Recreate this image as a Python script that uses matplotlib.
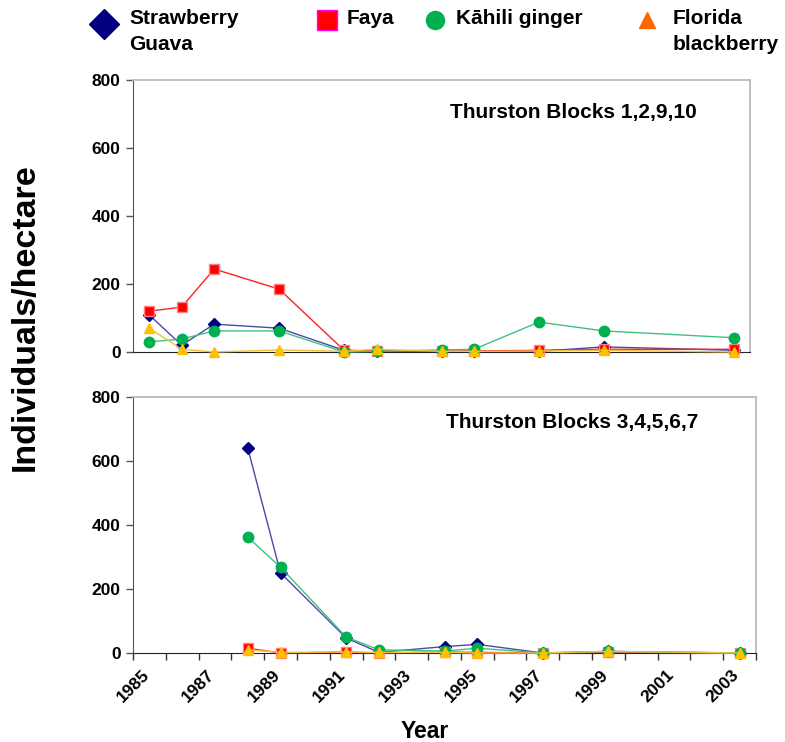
import matplotlib
matplotlib.use('Agg')
from matplotlib import pyplot as plt
from matplotlib.lines import Line2D

plt.rcParams['font.family'] = ['Liberation Sans', 'DejaVu Sans']
plt.rcParams['font.weight'] = 'bold'

# survey years (points sit mid-year)
years_top = [1985.5, 1986.5, 1987.5, 1989.5, 1991.5, 1992.5, 1994.5, 1995.5, 1997.5, 1999.5, 2003.5]
years_bot = [1988.5, 1989.5, 1991.5, 1992.5, 1994.5, 1995.5, 1997.5, 1999.5, 2003.5]

# Thurston Blocks 1,2,9,10
guava_top = [109, 20, 82, 70, 5, 2, 2, 2, 2, 15, 5]
faya_top = [120, 132, 244, 185, 5, 3, 3, 3, 5, 8, 8]
kahili_top = [30, 38, 62, 62, 0, 2, 6, 8, 88, 62, 42]
berry_top = [70, 8, 0, 6, 2, 8, 2, 2, 3, 5, 0]

# Thurston Blocks 3,4,5,6,7
guava_bot = [640, 250, 47, 2, 20, 27, 0, 5, 0]
faya_bot = [15, 0, 3, 0, 3, 2, 0, 3, 0]
kahili_bot = [362, 268, 50, 10, 6, 15, 0, 5, 0]
berry_bot = [10, 2, 3, 2, 2, 0, 0, 5, 0]

labels = ['Strawberry\nGuava', 'Faya', 'K\u0101hili ginger', 'Florida\nblackberry']
panel_titles = ['Thurston Blocks 1,2,9,10', 'Thurston Blocks 3,4,5,6,7']
xticks = list(range(1985, 2004, 2))

# line color, marker, marker face, marker edge, marker size
styles = [
    ('#4a4aa8', 'D', '#000080', '#000080', 6),
    ('#ff2020', 's', '#ff0000', '#ff8080', 7.5),
    ('#40c080', 'o', '#00b050', '#00b050', 7.5),
    ('#f0c040', '^', '#ffc000', '#ffc000', 7.5),
]

fig = plt.figure(figsize=(7.85, 7.42), dpi=100)
ax1 = fig.add_axes([133 / 785, 1 - 352 / 742, 617 / 785, 272 / 742])
ax2 = fig.add_axes([133 / 785, 1 - 653 / 742, 623 / 785, 256 / 742])

panels = [
    (ax1, years_top, [guava_top, faya_top, kahili_top, berry_top], (0.713, 0.882)),
    (ax2, years_bot, [guava_bot, faya_bot, kahili_bot, berry_bot], (0.705, 0.902)),
]

for i, (ax, yrs, series, tpos) in enumerate(panels):
    for vals, st in zip(series, styles):
        ax.plot(yrs, vals, color=st[0], lw=1.0, marker=st[1], markerfacecolor=st[2],
                markeredgecolor=st[3], markersize=st[4], clip_on=False, zorder=3)
    ax.set_xlim(1985, 2004)
    ax.set_ylim(0, 800)
    ax.set_yticks([0, 200, 400, 600, 800])
    ax.tick_params(axis='y', direction='out', length=5, width=1, color='#555555',
                   labelsize=12.5, pad=4)
    for s in ['top', 'right']:
        ax.spines[s].set_color('#bbbbbb')
        ax.spines[s].set_linewidth(1.3)
    ax.spines['left'].set_color('#555555')
    ax.spines['bottom'].set_color('#222222')
    ax.text(tpos[0], tpos[1], panel_titles[i], transform=ax.transAxes, ha='center', va='center',
            fontsize=15, fontweight='bold')
    for lab in ax.get_yticklabels():
        lab.set_fontweight('bold')

ax1.set_xticks([])
ax2.set_xticks(xticks)
ax2.set_xticks(range(1985, 2005), minor=True)
ax2.tick_params(axis='x', which='both', direction='out', length=5, width=1, color='#333333', pad=5)
ax2.set_xticklabels([str(y) for y in xticks], rotation=45, ha='center', va='top',
                    fontsize=12.5, fontweight='bold')

fig.text(25 / 785, 1 - 317 / 742, 'Individuals/hectare', rotation=90, ha='center', va='center',
         fontsize=24.5, fontweight='bold')
fig.text(425 / 785, 1 - 732 / 742, 'Year', ha='center', va='center', fontsize=16.5, fontweight='bold')

# legend along the top
leg_marks = [
    (104, 24, 'D', '#000080', '#000080', 15.5, 129),
    (327, 20, 's', '#ff0000', '#ff00ff', 14, 347),
    (435, 20, 'o', '#00b050', '#00b050', 13, 456),
    (647, 20, '^', '#ff6600', '#ff6600', 12, 673),
]
for (mx, my, mk, fc, ec, ms, tx), lab in zip(leg_marks, labels):
    fig.add_artist(Line2D([mx / 785], [1 - my / 742], transform=fig.transFigure, marker=mk,
                          markerfacecolor=fc, markeredgecolor=ec, markersize=ms, linestyle='none'))
    fig.text(tx / 785, 1 - 9 / 742, lab, ha='left', va='top', fontsize=15, fontweight='bold',
             linespacing=1.45)

fig.savefig('out.png', dpi=100)
